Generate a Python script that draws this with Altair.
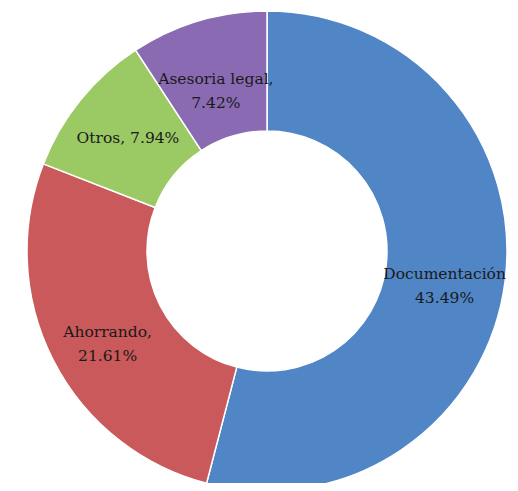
import altair as alt
import pandas as pd

categories = ["Documentación", "Ahorrando", "Otros", "Asesoria legal"]
values = [43.49, 21.61, 7.94, 7.42]
labels = ["Documentación\n43.49%", "Ahorrando,\n21.61%", "Otros, 7.94%", "Asesoria legal,\n7.42%"]
colors = ["#5085C6", "#C9595A", "#9BC964", "#8A6BB3"]

df = pd.DataFrame({
    "cat": categories,
    "val": values,
    "label": labels,
    "idx": list(range(len(categories))),
})

cx, cy = 259, 243

base = alt.Chart(df).encode(
    theta=alt.Theta("val:Q", stack=True),
    order=alt.Order("idx:Q"),
)

arcs = base.mark_arc(outerRadius=240, innerRadius=120, stroke="white", strokeWidth=1.5).encode(
    color=alt.Color("cat:N", scale=alt.Scale(domain=categories, range=colors), legend=None),
    x=alt.value(cx),
    y=alt.value(cy),
)

text = base.mark_text(radius=179, font="DejaVu Serif",
                      fontSize=15.5, lineBreak="\n",
                      lineHeight=24, color="#1a1a1a", align="center", baseline="middle").encode(
    text="label:N",
    x=alt.value(cx),
    y=alt.value(cy),
)

chart = alt.layer(arcs, text).properties(
    width=502, height=475, padding=0, autosize=alt.AutoSizeParams(type="none"), background="white"
).configure_view(stroke=None)

chart.save("out.html", embed_options={"renderer": "svg", "actions": False})
